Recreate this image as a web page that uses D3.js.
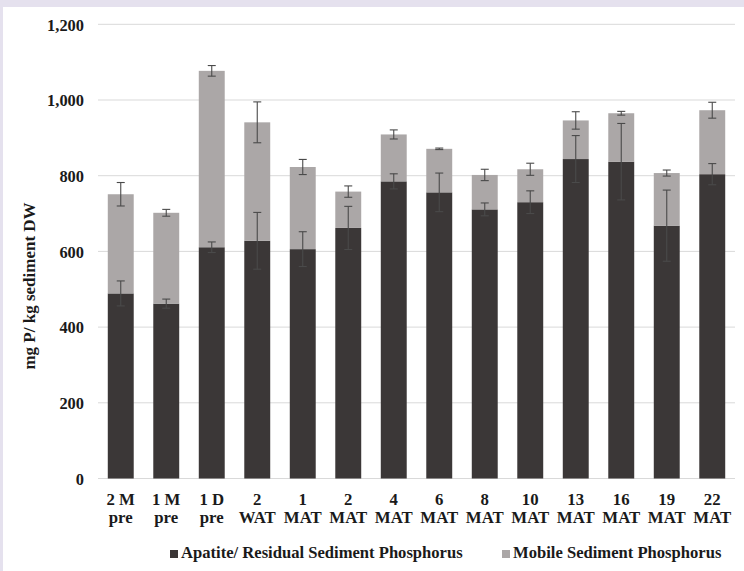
<!DOCTYPE html>
<html>
<head>
<meta charset="utf-8">
<script src="https://cdn.jsdelivr.net/npm/d3@7"></script>
<style>
  html, body { margin: 0; padding: 0; background: #e5e1ee; }
  svg { display: block; }
  text { font-family: "Liberation Serif", "Times New Roman", serif; font-weight: bold; fill: #1a1a1a; }
</style>
</head>
<body>
<svg id="chart" width="744" height="571"></svg>
<script>
// Sampling times
const categories = ["2 M|pre", "1 M|pre", "1 D|pre", "2|WAT", "1|MAT", "2|MAT", "4|MAT",
                    "6|MAT", "8|MAT", "10|MAT", "13|MAT", "16|MAT", "19|MAT", "22|MAT"];
// Apatite / residual sediment P (mg P/kg DW) and its error
const apatite    = [489, 462, 611, 628, 606, 662, 785, 756, 711, 730, 844, 837, 668, 804];
const apatiteErr = [33, 12, 14, 75, 46, 57, 20, 51, 17, 30, 62, 101, 94, 28];
// Mobile sediment P (stacked on top) and the error of the total
const mobile     = [262, 240, 466, 313, 217, 96, 124, 115, 91, 87, 102, 128, 139, 169];
const totalErr   = [31, 9, 14, 54, 20, 15, 12, 2, 15, 16, 23, 5, 8, 21];
const yTicks = [0, 200, 400, 600, 800, 1000, 1200];
const seriesNames = ["Apatite/ Residual Sediment Phosphorus", "Mobile Sediment Phosphorus"];
const colors = ["#3b3737", "#aba7a7"];

const svg = d3.select("#chart");

// white panel
svg.append("rect").attr("x", 3).attr("y", 7).attr("width", 741).attr("height", 564).attr("fill", "#ffffff");

const x = d3.scaleBand().domain(categories).range([98, 735]).paddingInner(0.43).paddingOuter(0.215);
const y = d3.scaleLinear().domain([0, 1200]).range([478.5, 24.3]);

// gridlines
svg.append("g").selectAll("line").data(yTicks).join("line")
  .attr("x1", 98).attr("x2", 735)
  .attr("y1", d => y(d)).attr("y2", d => y(d))
  .attr("stroke", "#d9d9d9").attr("stroke-width", 1);

// y axis labels
const yAxis = d3.axisLeft(y).tickValues(yTicks).tickSize(0).tickPadding(0).tickFormat(d3.format(","));
const yg = svg.append("g").attr("transform", "translate(84,0)").call(yAxis);
yg.select(".domain").remove();
yg.selectAll("text").attr("font-size", 16.4).attr("dy", "0.35em");

// y axis title
svg.append("text").attr("transform", "translate(35,286) rotate(-90)")
  .attr("text-anchor", "middle").attr("font-size", 17)
  .text("mg P/ kg sediment DW");

const data = categories.map((c, i) => ({
  c, a: apatite[i], m: mobile[i], ae: apatiteErr[i], te: totalErr[i]
}));

// stacked bars
svg.append("g").selectAll("rect").data(data).join("rect")
  .attr("x", d => x(d.c)).attr("width", x.bandwidth())
  .attr("y", d => y(d.a)).attr("height", d => y(0) - y(d.a))
  .attr("fill", colors[0]);
svg.append("g").selectAll("rect").data(data).join("rect")
  .attr("x", d => x(d.c)).attr("width", x.bandwidth())
  .attr("y", d => y(d.a + d.m)).attr("height", d => y(d.a) - y(d.a + d.m))
  .attr("fill", colors[1]);

// error bars
function errorBars(getV, getE) {
  const g = svg.append("g").attr("stroke", "#4a4a4a").attr("stroke-width", 1.1);
  data.forEach(d => {
    const cx = x(d.c) + x.bandwidth() / 2;
    const v = getV(d), e = getE(d);
    g.append("line").attr("x1", cx).attr("x2", cx).attr("y1", y(v + e)).attr("y2", y(v - e));
    g.append("line").attr("x1", cx - 4).attr("x2", cx + 4).attr("y1", y(v + e)).attr("y2", y(v + e));
    g.append("line").attr("x1", cx - 4).attr("x2", cx + 4).attr("y1", y(v - e)).attr("y2", y(v - e));
  });
}
errorBars(d => d.a + d.m, d => d.te);
errorBars(d => d.a, d => d.ae);

// x labels (two lines)
const xl = svg.append("g");
data.forEach(d => {
  const cx = x(d.c) + x.bandwidth() / 2;
  const parts = d.c.split("|");
  const t = xl.append("text").attr("text-anchor", "middle").attr("font-size", 16.8);
  t.append("tspan").attr("x", cx).attr("y", 504.5).text(parts[0]);
  t.append("tspan").attr("x", cx).attr("y", 522.5).text(parts[1]);
});

// legend
const legend = [{x: 170, name: seriesNames[0], color: colors[0]}, {x: 502, name: seriesNames[1], color: colors[1]}];
legend.forEach(l => {
  svg.append("rect").attr("x", l.x).attr("y", 550).attr("width", 8).attr("height", 8).attr("fill", l.color);
  svg.append("text").attr("x", l.x + 11).attr("y", 558).attr("font-size", 16.6).text(l.name);
});
</script>
</body>
</html>
